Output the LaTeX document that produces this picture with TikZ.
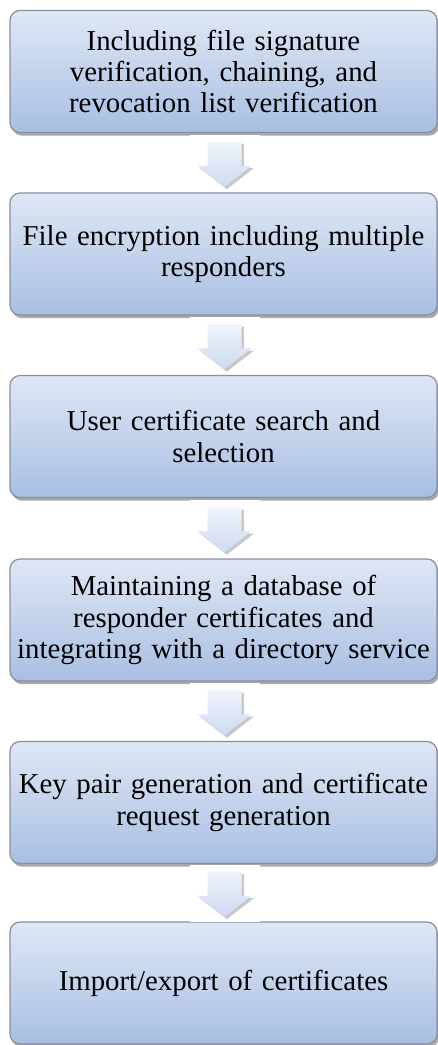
\documentclass[tikz,border=0pt]{standalone}
\usepackage{fontspec}
\setmainfont{Liberation Serif}
\usetikzlibrary{calc,shadows}

\definecolor{boxtop}{RGB}{223,231,245}
\definecolor{boxbot}{RGB}{168,191,226}
\definecolor{boxedge}{RGB}{138,143,160}
\definecolor{arrowtop}{RGB}{240,244,251}
\definecolor{arrowbot}{RGB}{205,218,240}

\tikzset{
  stepbox/.style={draw=boxedge, line width=0.6pt, rounded corners=5pt,
    top color=boxtop, bottom color=boxbot,
    minimum width=213.5pt, minimum height=61pt, text width=210pt,
    align=center, inner sep=0pt, font=\fontsize{14.4}{15.6}\selectfont,
    drop shadow={shadow xshift=1pt, shadow yshift=-1.6pt, opacity=0.45, fill=black!75}},
  flowarrow/.style={top color=arrowtop, bottom color=arrowbot,
    drop shadow={shadow xshift=1.2pt, shadow yshift=-1.2pt, opacity=0.3, fill=black!70}},
  patch/.style={fill=white}
}

\begin{document}
\begin{tikzpicture}[x=0.5pt, y=-0.5pt]
  \useasboundingbox (0,0) rectangle (438,1045);

  \node[stepbox] (b1) at (223.5, 71.5) {Including file signature\\ verification, chaining, and\\ revocation list verification};
  \node[stepbox] (b2) at (223.5, 254) {File encryption including multiple\\ responders};
  \node[stepbox] (b3) at (223.5, 436.5) {User certificate search and\\ selection};
  \node[stepbox] (b4) at (223.5, 620) {Maintaining a database of\\ responder certificates and\\ integrating with a directory service};
  \node[stepbox] (b5) at (223.5, 802.5) {Key pair generation and certificate\\ request generation};
  \node[stepbox] (b6) at (223.5, 983) {Import/export of certificates};

  % block arrows in the gaps
  \foreach \a/\b in {b1/b2, b2/b3, b3/b4, b4/b5, b5/b6} {
    \coordinate (gap-\a) at ($(\a.south)!0.5!(\b.north)$);
    \begin{scope}[shift={(gap-\a)}]
      \fill[patch] (-34,-28) rectangle (36,29);
      \path[flowarrow] (-16,-21) -- (18,-21) -- (18,3) -- (28,3) -- (1,24)
        -- (-26,3) -- (-16,3) -- cycle;
    \end{scope}
  }
\end{tikzpicture}
\end{document}
